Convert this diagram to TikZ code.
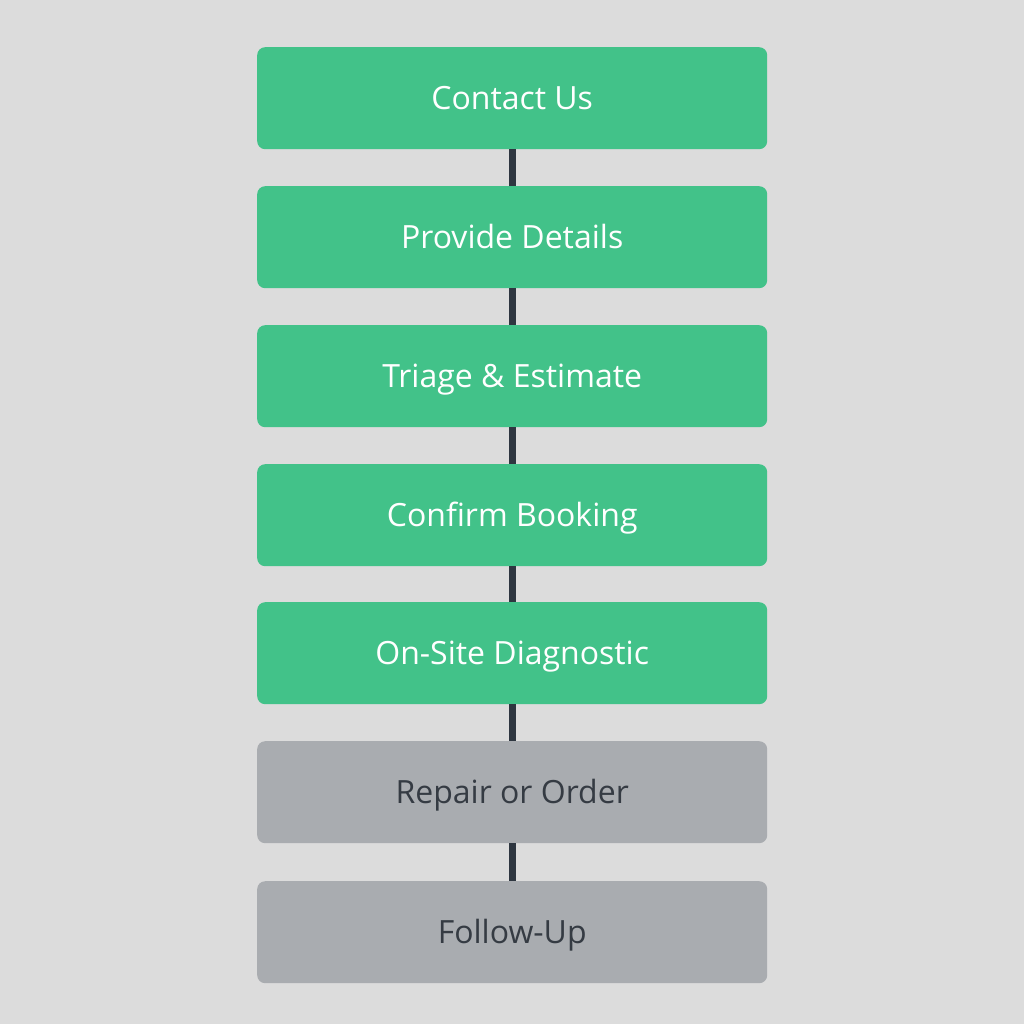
\documentclass[tikz,border=0pt]{standalone}
\usepackage{fontspec}
\setmainfont{Open Sans}
\definecolor{bg}{HTML}{DCDCDC}
\definecolor{grn}{HTML}{42C289}
\definecolor{gry}{HTML}{A9ACB0}
\definecolor{conn}{HTML}{2E3640}
\definecolor{dtxt}{HTML}{353B43}
\tikzset{
  stepbox/.style={rounded corners=8pt, minimum width=510pt, minimum height=102pt, inner sep=0pt, text height=23pt, text depth=0pt, font=\fontsize{32}{38}\selectfont, anchor=north west},
  done/.style={stepbox, fill=grn, text=white},
  todo/.style={stepbox, fill=gry, text=dtxt},
  link/.style={draw=conn, line width=7pt}
}
\begin{document}
\begin{tikzpicture}[x=1pt,y=-1pt]
\fill[bg] (0,0) rectangle (1024,1024);
\useasboundingbox (0,0) rectangle (1024,1024);
\node[done] (n1) at (257,47) {Contact Us};
\node[done] (n2) at (257,186) {Provide Details};
\node[done] (n3) at (257,325) {Triage \& Estimate};
\node[done] (n4) at (257,464) {Confirm Booking};
\node[done] (n5) at (257,602) {On-Site Diagnostic};
\node[todo] (n6) at (257,741) {Repair or Order};
\node[todo] (n7) at (257,881) {Follow-Up};
\draw[link] (n1.south) -- (n2.north);
\draw[link] (n2.south) -- (n3.north);
\draw[link] (n3.south) -- (n4.north);
\draw[link] (n4.south) -- (n5.north);
\draw[link] (n5.south) -- (n6.north);
\draw[link] (n6.south) -- (n7.north);
\end{tikzpicture}
\end{document}
